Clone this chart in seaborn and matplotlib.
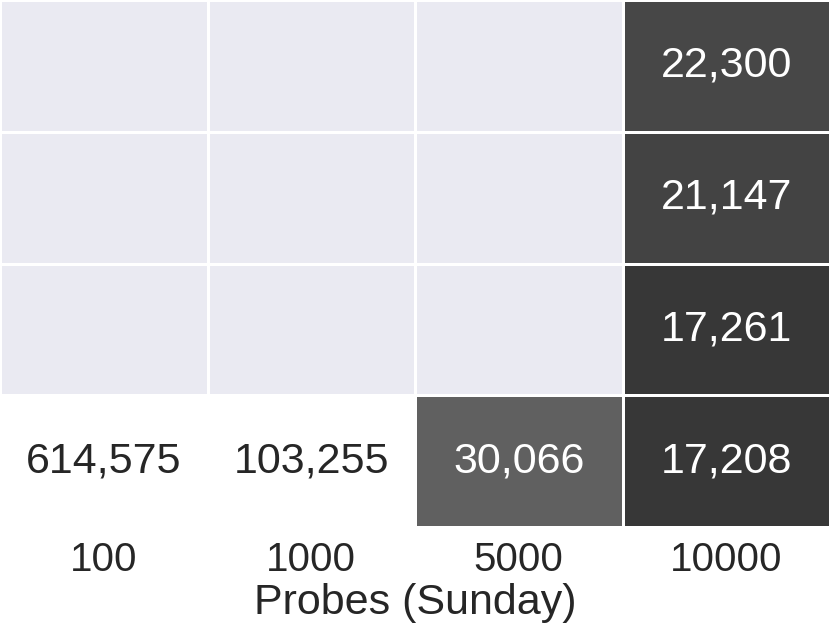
import numpy as np
import pandas as pd
import matplotlib
matplotlib.use("Agg")
import matplotlib.pyplot as plt
import seaborn as sns

# data (rows top to bottom)
probes = ["100", "1000", "5000", "10000"]
row_1 = [np.nan, np.nan, np.nan, 22300]
row_2 = [np.nan, np.nan, np.nan, 21147]
row_3 = [np.nan, np.nan, np.nan, 17261]
row_4 = [614575, 103255, 30066, 17208]

table = pd.DataFrame([row_1, row_2, row_3, row_4], columns=probes)

sns.set_theme(style="darkgrid")
plt.rcParams["font.family"] = ["Liberation Sans", "DejaVu Sans"]

fig = plt.figure(figsize=(8.3, 6.25), dpi=100)
ax = fig.add_axes([0, 1 - 527 / 625, 1, 527 / 625])

sns.heatmap(table, ax=ax, cmap="gray", vmin=0, vmax=80000, cbar=False,
            annot=True, fmt=",.0f", annot_kws={"fontsize": 31},
            linewidths=0.8, linecolor="white", yticklabels=False)
ax.grid(False)

ax.tick_params(axis="x", labelsize=29, length=0, pad=10)
ax.set_xlabel("Probes (Sunday)", fontsize=31, labelpad=3)
ax.set_ylabel("")

fig.savefig("out.png", dpi=100)
